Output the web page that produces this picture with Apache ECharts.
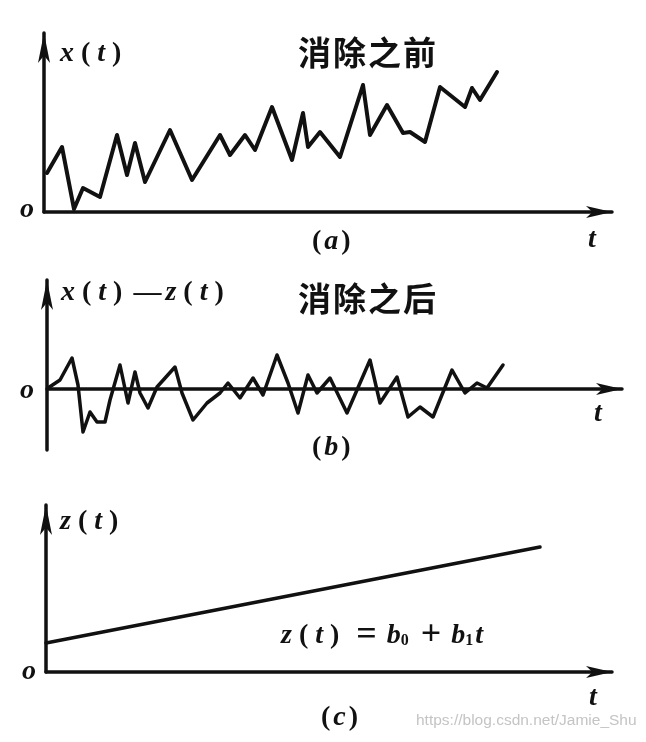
<!DOCTYPE html>
<html>
<head>
<meta charset="utf-8">
<script src="https://cdn.jsdelivr.net/npm/echarts@6/dist/echarts.min.js"></script>
<style>
  html, body { margin: 0; padding: 0; background: #fff; }
  #chart { width: 646px; height: 742px; }
</style>
</head>
<body>
<div id="chart"></div>
<script>
// (a) before removing the trend: t and x(t)
const tA = [3, 18, 30, 39, 56, 73, 83, 91, 101, 126, 148, 176, 186, 201, 211, 228, 248, 259, 264, 276, 296, 319, 326, 343, 359, 366, 381, 396, 421, 428, 436, 453];
const xA = [39, 65, 3, 24, 15, 77, 37, 69, 30, 82, 32, 77, 57, 77, 62, 105, 52, 99, 65, 80, 55, 127, 77, 107, 79, 80, 70, 125, 105, 124, 112, 140];

// (b) after removing the trend: x(t) - z(t)
const tB = [1, 13, 25, 31, 36, 43, 50, 58, 63, 73, 81, 88, 93, 101, 110, 128, 135, 146, 160, 173, 181, 193, 206, 216, 230, 241, 251, 261, 270, 283, 300, 323, 333, 350, 361, 373, 386, 405, 418, 430, 440, 456];
const xB = [1, 9, 31, 4, -43, -23, -33, -33, -11, 24, -14, 17, -4, -19, 2, 22, -4, -31, -14, -4, 6, -9, 11, -6, 34, 6, -24, 14, -4, 11, -24, 29, -14, 12, -28, -18, -28, 19, -4, 6, 1, 24];

// (c) the trend line z(t) = b0 + b1 t
const tC = [0, 494];
const zC = [29, 125];

const pairs = (ts, vs) => ts.map((t, i) => [t, vs[i]]);

const chart = echarts.init(document.getElementById('chart'), null, { renderer: 'canvas' });

const serif = '"Liberation Serif", "DejaVu Serif", serif';
const cjk = '"Noto Sans CJK SC", sans-serif';

const mathRich = {
  i: { fontFamily: serif, fontStyle: 'italic', fontWeight: 'bold', fontSize: 28, fill: '#111' },
  p: { fontFamily: serif, fontWeight: 'bold', fontSize: 28, fill: '#111', padding: [0, 7, 0, 7] },
  q: { fontFamily: serif, fontWeight: 'bold', fontSize: 28, fill: '#111', padding: [0, 3, 0, 3] },
  d: { fontFamily: serif, fontWeight: 'bold', fontSize: 28, fill: '#111', padding: [0, 4, 0, 4] },
  o: { fontFamily: serif, fontWeight: 'bold', fontSize: 36, fill: '#111', padding: [0, 10, 0, 10] },
  s: { fontFamily: serif, fontWeight: 'bold', fontSize: 16, fill: '#111', padding: [10, 2, 0, 0] },
  c: { fontFamily: cjk, fontWeight: 'bold', fontSize: 33, fill: '#111', padding: [0, 1, 0, 1] }
};

function axisStyle(arrowW, arrowH) {
  return {
    show: true,
    onZero: true,
    symbol: ['none', 'arrow'],
    symbolSize: [arrowW, arrowH],
    lineStyle: { color: '#111', width: 3.5 }
  };
}

function xAxisFor(idx, max) {
  return {
    type: 'value', gridIndex: idx, min: 0, max: max,
    axisLine: axisStyle(9, 26),
    axisTick: { show: false }, axisLabel: { show: false }, splitLine: { show: false }
  };
}

function yAxisFor(idx, min, max) {
  return {
    type: 'value', gridIndex: idx, min: min, max: max,
    axisLine: Object.assign(axisStyle(9, 30), { onZero: false }),
    axisTick: { show: false }, axisLabel: { show: false }, splitLine: { show: false }
  };
}

function lineSeries(idx, data, width) {
  return {
    type: 'line', xAxisIndex: idx, yAxisIndex: idx, data: data,
    symbol: 'none', smooth: false, animation: false,
    lineStyle: { color: '#111', width: width, join: 'round', cap: 'round' }
  };
}

function txt(x, y, text, style) {
  return {
    type: 'text', x: x, y: y,
    style: Object.assign({ text: text, fill: '#111', verticalAlign: 'middle', rich: mathRich }, style)
  };
}

const italicT = { fontFamily: serif, fontStyle: 'italic', fontWeight: 'bold', fontSize: 28 };

const option = {
  backgroundColor: '#ffffff',
  animation: false,
  grid: [
    { left: 44, top: 33, width: 568, height: 179 },
    { left: 47, top: 280, width: 575, height: 170 },
    { left: 46, top: 505, width: 566, height: 167 }
  ],
  xAxis: [xAxisFor(0, 568), xAxisFor(1, 575), xAxisFor(2, 566)],
  yAxis: [yAxisFor(0, 0, 179), yAxisFor(1, -61, 109), yAxisFor(2, 0, 167)],
  series: [
    lineSeries(0, pairs(tA, xA), 4),
    lineSeries(1, pairs(tB, xB), 3.5),
    lineSeries(2, pairs(tC, zC), 3.5)
  ],
  graphic: [
    // panel (a)
    txt(60, 54, '{i|x}{p|(}{i|t}{p|)}'),
    txt(297, 52, '{c|消}{c|除}{c|之}{c|前}'),
    txt(20, 210, 'o', italicT),
    txt(309, 242, '{q|(}{i|a}{q|)}'),
    txt(588, 240, 't', italicT),
    // panel (b)
    txt(61, 293, '{i|x}{p|(}{i|t}{p|)}{d|—}{i|z}{p|(}{i|t}{p|)}'),
    txt(297, 298, '{c|消}{c|除}{c|之}{c|后}'),
    txt(20, 391, 'o', italicT),
    txt(309, 448, '{q|(}{i|b}{q|)}'),
    txt(594, 414, 't', italicT),
    // panel (c)
    txt(60, 522, '{i|z}{p|(}{i|t}{p|)}'),
    txt(281, 636, '{i|z}{p|(}{i|t}{p|)}{o|=}{i|b}{s|0}{o|+}{i|b}{s|1}{i|t}'),
    txt(22, 672, 'o', italicT),
    txt(318, 718, '{q|(}{i|c}{q|)}'),
    txt(589, 698, 't', italicT),
    // watermark
    txt(416, 721, 'https://blog.csdn.net/Jamie_Shu', {
      rich: null,
      fontFamily: '"Liberation Sans", sans-serif',
      fontSize: 15.5, fill: '#c4c4c4'
    })
  ]
};

chart.setOption(option);
</script>
</body>
</html>
